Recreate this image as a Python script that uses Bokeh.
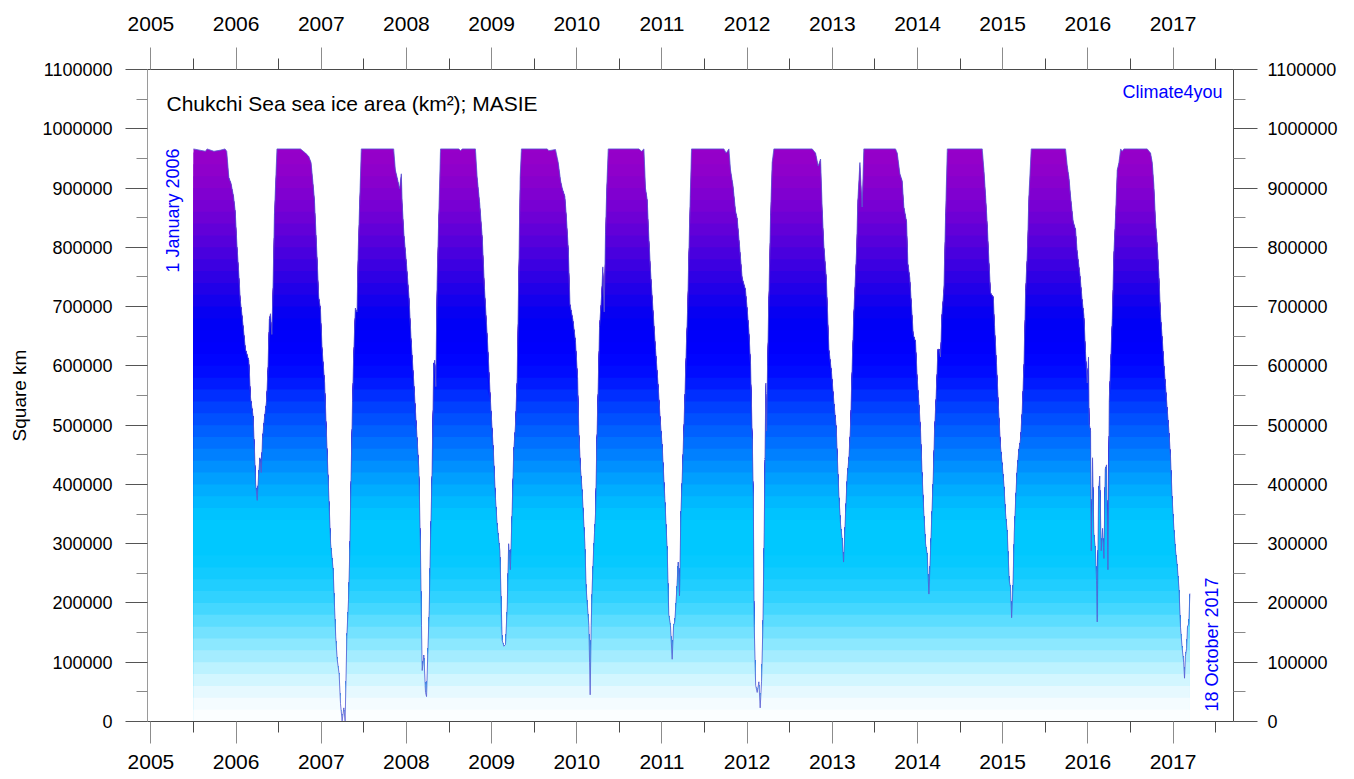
from bokeh.plotting import figure
from bokeh.models import (Range1d, LinearAxis, FixedTicker, CustomJSTickFormatter,
                          BasicTickFormatter, Label)
from bokeh.embed import file_html
from bokeh.resources import INLINE
import math

# ---------------- data ----------------
dates = [
    2006.000, 2006.140, 2006.160, 2006.240, 2006.320, 2006.370, 2006.390, 2006.415, 2006.440, 2006.470,
    2006.490, 2006.510, 2006.530, 2006.550, 2006.570, 2006.610, 2006.650, 2006.670, 2006.700, 2006.716,
    2006.730, 2006.748, 2006.763, 2006.780, 2006.795, 2006.810, 2006.830, 2006.857, 2006.873, 2006.890,
    2006.904, 2006.920, 2006.935, 2006.950, 2006.967, 2006.980,
    2007.256, 2007.315, 2007.354, 2007.380, 2007.405, 2007.420, 2007.436, 2007.452, 2007.470, 2007.490,
    2007.510, 2007.540, 2007.560, 2007.580, 2007.610, 2007.640, 2007.656, 2007.670, 2007.687, 2007.710,
    2007.726, 2007.745, 2007.765, 2007.780, 2007.790, 2007.800, 2007.820, 2007.835, 2007.850, 2007.867,
    2007.880, 2007.900, 2007.920, 2007.933, 2007.953, 2007.970,
    2008.350, 2008.370, 2008.390, 2008.420, 2008.440, 2008.450, 2008.470, 2008.500, 2008.530, 2008.556,
    2008.587, 2008.620, 2008.646, 2008.665, 2008.677, 2008.685, 2008.705, 2008.724, 2008.736, 2008.750,
    2008.767, 2008.780, 2008.800, 2008.820, 2008.834, 2008.845, 2008.860, 2008.880, 2008.900,
    2009.115, 2009.135, 2009.155, 2009.310, 2009.330, 2009.360, 2009.390, 2009.417, 2009.450, 2009.487,
    2009.520, 2009.546, 2009.565, 2009.597, 2009.624, 2009.644, 2009.663, 2009.683, 2009.700, 2009.720,
    2009.740, 2009.760, 2009.780, 2009.800, 2009.820, 2009.835, 2009.850,
    2010.153, 2010.172, 2010.250, 2010.282, 2010.310, 2010.330, 2010.360, 2010.376, 2010.400, 2010.420,
    2010.454, 2010.485, 2010.510, 2010.524, 2010.544, 2010.563, 2010.595, 2010.610, 2010.626, 2010.642,
    2010.650, 2010.657, 2010.669, 2010.680, 2010.697, 2010.708, 2010.720, 2010.736, 2010.752, 2010.767,
    2010.790, 2010.806, 2010.822, 2010.837, 2010.853, 2010.869,
    2011.229, 2011.260, 2011.288, 2011.307, 2011.327, 2011.346, 2011.366, 2011.385, 2011.425, 2011.456,
    2011.483, 2011.503, 2011.534, 2011.562, 2011.580, 2011.600, 2011.620, 2011.636, 2011.650, 2011.675,
    2011.690, 2011.706, 2011.722, 2011.738, 2011.753, 2011.770, 2011.785, 2011.800, 2011.816, 2011.832,
    2011.847,
    2012.227, 2012.254, 2012.286, 2012.305, 2012.333, 2012.364, 2012.383, 2012.410, 2012.442, 2012.480,
    2012.500, 2012.520, 2012.540, 2012.560, 2012.572, 2012.583, 2012.600, 2012.618, 2012.638, 2012.653,
    2012.669, 2012.685, 2012.700, 2012.712, 2012.720, 2012.728, 2012.740, 2012.755, 2012.775, 2012.794,
    2012.814,
    2013.264, 2013.303, 2013.334, 2013.362, 2013.382, 2013.400, 2013.430, 2013.460, 2013.490, 2013.518,
    2013.546, 2013.561, 2013.577, 2013.597, 2013.616, 2013.632, 2013.655, 2013.675, 2013.695, 2013.714,
    2013.733, 2013.753, 2013.784, 2013.800, 2013.824, 2013.850, 2013.870,
    2014.242, 2014.262, 2014.293, 2014.320, 2014.340, 2014.372, 2014.387, 2014.410, 2014.426, 2014.450,
    2014.477, 2014.497, 2014.516, 2014.536, 2014.555, 2014.575, 2014.595, 2014.614, 2014.634, 2014.653,
    2014.669, 2014.685, 2014.700, 2014.720, 2014.740, 2014.755, 2014.770, 2014.786, 2014.810, 2014.830,
    2014.850,
    2015.260, 2015.280, 2015.300, 2015.320, 2015.338, 2015.358, 2015.390, 2015.405, 2015.428, 2015.452,
    2015.475, 2015.495, 2015.514, 2015.534, 2015.554, 2015.577, 2015.593, 2015.605, 2015.620, 2015.636,
    2015.655, 2015.670, 2015.690, 2015.710, 2015.730, 2015.750, 2015.770, 2015.790, 2015.808, 2015.835,
    2016.238, 2016.258, 2016.278, 2016.297, 2016.328, 2016.356, 2016.375, 2016.407, 2016.434, 2016.454,
    2016.473, 2016.493, 2016.508, 2016.516, 2016.532, 2016.540, 2016.555, 2016.570, 2016.590, 2016.602,
    2016.610, 2016.626, 2016.640, 2016.657, 2016.673, 2016.689, 2016.704, 2016.720, 2016.736, 2016.751,
    2016.767, 2016.786, 2016.806, 2016.826, 2016.845, 2016.865, 2016.885,
    2016.904, 2016.923, 2017.197, 2017.236, 2017.256, 2017.275, 2017.295, 2017.315, 2017.334, 2017.354,
    2017.373, 2017.393, 2017.413, 2017.432, 2017.452, 2017.471, 2017.490, 2017.510, 2017.530, 2017.550,
    2017.570, 2017.588, 2017.608, 2017.625, 2017.635, 2017.645, 2017.659, 2017.670, 2017.685, 2017.698,
]

area_km2 = [
    966000, 962000, 966000, 962000, 964000, 966000, 962000, 918000, 908000, 886000,
    861000, 804000, 760000, 710000, 685000, 628000, 609000, 546000, 515000, 458000,
    401000, 373000, 414000, 445000, 420000, 477000, 508000, 540000, 590000, 678000,
    688000, 653000, 742000, 855000, 918000, 966000,
    966000, 959000, 953000, 943000, 905000, 880000, 830000, 779000, 716000, 697000,
    628000, 571000, 490000, 414000, 300000, 256000, 193000, 143000, 105000, 80000,
    30000, 1000, 23000, 1000, 67000, 143000, 206000, 288000, 414000, 540000,
    615000, 697000, 691000, 792000, 886000, 966000,
    966000, 930000, 918000, 899000, 924000, 874000, 823000, 773000, 716000, 641000,
    571000, 490000, 426000, 288000, 162000, 86000, 112000, 49000, 42000, 112000,
    187000, 288000, 414000, 603000, 609000, 565000, 742000, 855000, 966000,
    966000, 963000, 966000, 966000, 918000, 874000, 817000, 729000, 647000, 540000,
    458000, 376000, 332000, 288000, 137000, 127000, 130000, 193000, 300000, 256000,
    351000, 458000, 500000, 580000, 767000, 918000, 966000,
    966000, 963000, 965000, 943000, 912000, 899000, 886000, 855000, 798000, 704000,
    678000, 641000, 578000, 490000, 426000, 389000, 300000, 225000, 193000, 162000,
    99000, 45000, 162000, 225000, 288000, 319000, 351000, 477000, 571000, 666000,
    716000, 767000, 691000, 823000, 905000, 966000,
    966000, 962000, 966000, 899000, 880000, 817000, 760000, 716000, 628000, 565000,
    502000, 464000, 376000, 288000, 181000, 162000, 105000, 162000, 168000, 225000,
    269000, 212000, 351000, 414000, 477000, 553000, 628000, 691000, 792000, 886000,
    966000,
    966000, 959000, 966000, 930000, 905000, 861000, 849000, 804000, 748000, 729000,
    697000, 660000, 603000, 477000, 382000, 162000, 61000, 49000, 67000, 23000,
    67000, 162000, 319000, 477000, 571000, 490000, 603000, 716000, 855000, 943000,
    966000,
    966000, 959000, 937000, 949000, 861000, 804000, 748000, 628000, 590000, 540000,
    496000, 439000, 382000, 332000, 307000, 269000, 351000, 414000, 445000, 500000,
    600000, 691000, 792000, 880000, 943000, 868000, 966000,
    966000, 959000, 924000, 912000, 868000, 843000, 773000, 748000, 710000, 653000,
    641000, 578000, 540000, 490000, 414000, 351000, 300000, 282000, 215000, 288000,
    351000, 414000, 490000, 553000, 628000, 628000, 615000, 685000, 729000, 855000,
    966000,
    966000, 930000, 886000, 836000, 779000, 723000, 716000, 666000, 603000, 527000,
    464000, 433000, 401000, 351000, 319000, 238000, 225000, 175000, 225000, 319000,
    382000, 426000, 458000, 477000, 527000, 603000, 729000, 792000, 886000, 966000,
    966000, 937000, 918000, 886000, 843000, 830000, 792000, 754000, 710000, 685000,
    622000, 571000, 615000, 502000, 490000, 288000, 445000, 319000, 288000, 238000,
    168000, 389000, 414000, 288000, 326000, 275000, 426000, 433000, 256000, 540000,
    603000, 678000, 792000, 855000, 930000, 943000, 966000,
    962000, 966000, 966000, 959000, 943000, 905000, 843000, 804000, 754000, 685000,
    647000, 603000, 565000, 527000, 490000, 445000, 376000, 326000, 288000, 262000,
    225000, 159000, 123000, 100000, 73000, 110000, 123000, 160000, 165000, 216000,
]

year_labels = list(range(2005, 2018))          # labels centred on each year
y_ticks = list(range(0, 1100001, 100000))
y_minor = list(range(50000, 1100001, 100000))
ice_cap = 966000                                # full-coverage area of the sea

# colour scale of the horizontal fill bands (value -> colour)
scale_values = [0, 40000, 80000, 120000, 160000, 200000, 240000, 280000, 340000, 380000,
                420000, 460000, 500000, 540000, 580000, 620000, 680000, 740000, 800000,
                860000, 920000, 966000]
scale_colors = ["#ffffff", "#f0fbff", "#c8f4ff", "#98eaff", "#68e0ff", "#38d4ff", "#18ccff",
                "#00c8ff", "#00c8ff", "#00b4ff", "#0098ff", "#0078ff", "#0058ff", "#0038ff",
                "#0010ff", "#0000ff", "#0000f4", "#2800e6", "#5000dc", "#7400d4", "#8c00cc",
                "#9900c8"]
band_step = 20000


def hex2rgb(h):
    return tuple(int(h[i:i + 2], 16) for i in (1, 3, 5))


def colour_at(v):
    for i in range(len(scale_values) - 1):
        a, b = scale_values[i], scale_values[i + 1]
        if a <= v <= b:
            f = (v - a) / (b - a)
            ca, cb = hex2rgb(scale_colors[i]), hex2rgb(scale_colors[i + 1])
            c = [round(ca[k] + f * (cb[k] - ca[k])) for k in range(3)]
            return "#%02x%02x%02x" % tuple(c)
    return scale_colors[-1]


band_tops = list(range(band_step, ice_cap, band_step)) + [ice_cap]

FONT = "Liberation Sans"

p = figure(width=1354, height=779,
           x_range=Range1d(2005.46, 2018.21), y_range=Range1d(0, 1100000),
           output_backend="svg", toolbar_location=None,
           min_border_left=147, min_border_right=121, min_border_top=69, min_border_bottom=58)
p.grid.visible = False
p.outline_line_color = None
p.background_fill_color = "white"
p.border_fill_color = "white"

# colour bands under the curve: tallest band first, each lower band painted over it
for top in sorted(band_tops, reverse=True):
    p.varea(x=dates, y1=[0] * len(dates), y2=[min(v, top) for v in area_km2],
            color=colour_at(top - band_step / 2))
p.line(dates, area_km2, line_color="#5a5ad2", line_width=1, line_alpha=0.8)

# ---------------- axes ----------------
x_major = [y + 0.5 for y in year_labels]
x_minor = list(range(2006, 2019))
year_fmt = CustomJSTickFormatter(code="return Math.floor(tick).toString();")


def style_x(ax, standoff):
    ax.ticker = FixedTicker(ticks=x_major, minor_ticks=x_minor)
    ax.formatter = year_fmt
    ax.major_tick_out = 22
    ax.major_tick_in = 0
    ax.minor_tick_out = 11
    ax.minor_tick_in = 0
    ax.major_tick_line_color = "#8c8c8c"
    ax.minor_tick_line_color = "#4a4a4a"
    ax.axis_line_color = "#4a4a4a"
    ax.major_label_text_font = FONT
    ax.major_label_text_font_size = "21px"
    ax.major_label_text_color = "black"
    ax.major_label_standoff = standoff


def style_y(ax, line_color):
    ax.ticker = FixedTicker(ticks=y_ticks, minor_ticks=y_minor)
    ax.formatter = BasicTickFormatter(use_scientific=False)
    ax.major_tick_out = 22
    ax.major_tick_in = 0
    ax.minor_tick_out = 11
    ax.minor_tick_in = 0
    ax.major_tick_line_color = "#555555"
    ax.minor_tick_line_color = "#888888"
    ax.axis_line_color = line_color
    ax.major_label_text_font = FONT
    ax.major_label_text_font_size = "18px"
    ax.major_label_text_color = "black"


style_x(p.xaxis[0], 11)
style_y(p.yaxis[0], "#9a9a9a")
p.yaxis[0].major_label_standoff = 13
p.yaxis[0].axis_label = "Square km"
p.yaxis[0].axis_label_text_font = FONT
p.yaxis[0].axis_label_text_font_size = "19px"
p.yaxis[0].axis_label_text_font_style = "normal"
p.yaxis[0].axis_label_text_color = "black"
p.yaxis[0].axis_label_standoff = 9

top_axis = LinearAxis()
style_x(top_axis, 17)
p.add_layout(top_axis, "above")

right_axis = LinearAxis()
style_y(right_axis, "#4a4a4a")
right_axis.major_tick_out = 24
right_axis.minor_tick_out = 12
right_axis.major_label_standoff = 10
p.add_layout(right_axis, "right")

# ---------------- texts ----------------
p.add_layout(Label(x=19, y=618, x_units="screen", y_units="screen",
                   text="Chukchi Sea sea ice area (km²); MASIE",
                   text_font=FONT, text_font_size="21px", text_color="black",
                   text_baseline="middle", text_align="left"))
p.add_layout(Label(x=1075, y=630, x_units="screen", y_units="screen",
                   text="Climate4you", text_font=FONT, text_font_size="18px",
                   text_color="#0000ff", text_baseline="middle", text_align="right"))
p.add_layout(Label(x=25, y=511, x_units="screen", y_units="screen", angle=math.pi / 2,
                   text="1 January 2006", text_font=FONT, text_font_size="18px",
                   text_color="#0000ff", text_baseline="middle", text_align="center"))
p.add_layout(Label(x=1064, y=77, x_units="screen", y_units="screen", angle=math.pi / 2,
                   text="18 October 2017", text_font=FONT, text_font_size="18px",
                   text_color="#0000ff", text_baseline="middle", text_align="center"))

open("out.html", "w").write(file_html(p, INLINE))
